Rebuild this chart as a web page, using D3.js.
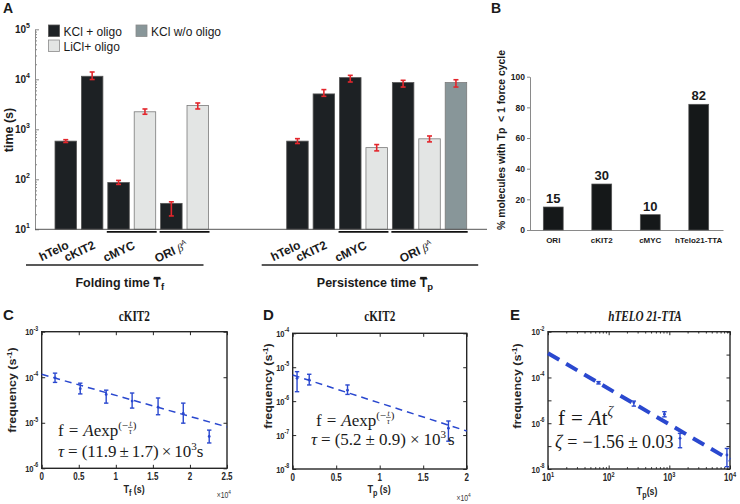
<!DOCTYPE html>
<html><head><meta charset="utf-8">
<script src="https://cdn.jsdelivr.net/npm/d3@7/dist/d3.min.js"></script>
<style>html,body{margin:0;padding:0;background:#fff}svg{display:block}</style>
</head><body>
<svg id="fig" width="740" height="504" xmlns="http://www.w3.org/2000/svg"></svg>
<script>
// ================= DATA =================
// Panel A
const legendLabels = ["KCl + oligo", "LiCl+ oligo", "KCl w/o oligo"];
const legendConds  = ["KCl", "LiCl", "KClNo"];
const foldKeys   = ["hTelo","cKIT2","cMYC-KCl","cMYC-LiCl","ORI-KCl","ORI-LiCl"];
const foldCond   = ["KCl","KCl","KCl","LiCl","KCl","LiCl"];
const foldValues = [580, 11500, 86, 2240, 33, 2980];
const foldLow    = [545, 9900, 79, 2000, 18.5, 2550];
const foldHigh   = [620, 14000, 95, 2550, 35.5, 3360];
const persKeys   = ["hTelo","cKIT2","cMYC-KCl","cMYC-LiCl","ORI-KCl","ORI-LiCl","ORI-noOligo"];
const persCond   = ["KCl","KCl","KCl","LiCl","KCl","LiCl","KClNo"];
const persValues = [580, 5100, 10800, 430, 8600, 645, 8600];
const persLow    = [520, 4570, 8830, 370, 7000, 560, 7000];
const persHigh   = [650, 6220, 12000, 495, 9550, 735, 9800];
const groupNames = ["hTelo","cKIT2","cMYC","ORI"];
const foldGroups = [["hTelo"],["cKIT2"],["cMYC-KCl","cMYC-LiCl"],["ORI-KCl","ORI-LiCl"]];
const persGroups = [["hTelo"],["cKIT2"],["cMYC-KCl","cMYC-LiCl"],["ORI-KCl","ORI-LiCl","ORI-noOligo"]];
const yTicksA = [1e1, 1e2, 1e3, 1e4, 1e5];
// Panel B
const bCats   = ["ORI","cKIT2","cMYC","hTelo21-TTA"];
const bValues = [15, 30, 10, 82];
const bTicks  = [0, 20, 40, 60, 80, 100];
// Panel C  (cKIT2, folding time)
const cT    = [1800, 5200, 8700, 12200, 15700, 19100, 22600];
const cF    = [9.7e-5, 5.6e-5, 4.2e-5, 3.0e-5, 2.2e-5, 1.6e-5, 5.0e-6];
const cLow  = [7.7e-5, 4.3e-5, 2.7e-5, 2.1e-5, 1.5e-5, 9.8e-6, 3.6e-6];
const cHigh = [1.23e-4, 7.4e-5, 5.2e-5, 4.5e-5, 3.5e-5, 2.7e-5, 6.9e-6];
const cFitT = [0, 25000];
const cFitF = [1.16e-4, 8.1e-6];
const cXTicks = [0, 5000, 10000, 15000, 20000, 25000];
const cXLabels = ["0","0.5","1","1.5","2","2.5"];
const cYTicks = [1e-6, 1e-5, 1e-4, 1e-3];
// Panel D  (cKIT2, persistence time)
const dT    = [500, 1900, 6300, 17900];
const dF    = [4.7e-6, 4.2e-6, 2.1e-6, 1.6e-7];
const dLow  = [1.9e-6, 3.0e-6, 1.58e-6, 6.6e-8];
const dHigh = [7.4e-6, 6.2e-6, 3.0e-6, 2.6e-7];
const dFitT = [0, 20000];
const dFitF = [5.9e-6, 1.32e-7];
const dXTicks = [0, 5000, 10000, 15000, 20000];
const dXLabels = ["0","0.5","1","1.5","2"];
const dYTicks = [1e-8, 1e-7, 1e-6, 1e-5, 1e-4];
// Panel E  (hTELO 21-TTA)
const eT    = [68, 260, 830, 1500, 8900];
const eF    = [5.9e-5, 8.0e-6, 2.5e-6, 2.2e-7, 4.1e-8];
const eLow  = [5.2e-5, 5.6e-6, 1.9e-6, 8.5e-8, 1.26e-8];
const eHigh = [6.6e-5, 9.3e-6, 3.2e-6, 3.6e-7, 7.9e-8];
const eFitT = [10, 10000];
const eFitF = [1.15e-3, 2.5e-8];
const eXTicks = [1e1, 1e2, 1e3, 1e4];
const eYTicks = [1e-8, 1e-7, 1e-6, 1e-5, 1e-4, 1e-3, 1e-2];
const eYLabeled = [1e-8, 1e-6, 1e-4, 1e-2];

// ================= STYLE =================
const SANS = '"Liberation Sans", Arial, Helvetica, sans-serif';
const SERIF = '"Liberation Serif", "Times New Roman", serif';
const INK = "#1a1a1a";
const condColors = {KCl:"#1d2124", LiCl:"#e3e5e4", KClNo:"#889699"};
const RED = "#e3262c", BLUE = "#2a48cf";
const SX = 0.8;   // horizontal squeeze of the text in panels C–E

const svg = d3.select("#fig");
svg.append("rect").attr("width",740).attr("height",504).attr("fill","#fff");

function panelLetter(t, x, y, size){
  svg.append("text").attr("x",x).attr("y",y).text(t)
    .attr("font-family",SANS).attr("font-weight","bold").attr("font-size",size).attr("fill",INK);
}

// ================= PANEL A =================
const gA = svg.append("g");
const yA = d3.scaleLog().domain([10, 1e5]).range([229.3, 29.3]);
const xFold = d3.scaleBand().domain(foldKeys).range([55, 208.5]).paddingInner(0.186).paddingOuter(0);
const xPers = d3.scaleBand().domain(persKeys).range([286.7, 466.7]).paddingInner(0.186).paddingOuter(0);

const minorA = [];
[10,100,1000,10000].forEach(d => { for (let m=2;m<=9;m++) minorA.push(d*m); });
gA.append("g").attr("transform","translate(35,0)")
  .call(d3.axisLeft(yA).tickValues(minorA).tickSizeInner(-2).tickSizeOuter(0).tickFormat(""))
  .call(s => { s.select(".domain").remove(); s.selectAll("line").attr("stroke","#8a8a8a"); });
gA.append("g").attr("transform","translate(35,0)")
  .call(d3.axisLeft(yA).tickValues(yTicksA).tickSizeInner(-4).tickSizeOuter(0).tickFormat(""))
  .call(s => { s.select(".domain").attr("stroke","#8a8a8a"); s.selectAll("line").attr("stroke","#8a8a8a"); });
yTicksA.forEach(v => {
  const t = gA.append("text").attr("x",30).attr("y",yA(v)+4).attr("text-anchor","end")
    .attr("font-family",SANS).attr("font-weight","bold").attr("fill",INK);
  t.append("tspan").text("10").attr("font-size",10);
  t.append("tspan").text(Math.round(Math.log10(v))).attr("font-size",7).attr("dy",-5);
});
gA.append("text").attr("transform","translate(13,130) rotate(-90)").attr("text-anchor","middle")
  .attr("font-family",SANS).attr("font-weight","bold").attr("font-size",12.5).attr("fill",INK).text("time (s)");

function drawBars(xs, keys, conds, vals, lo, hi){
  const bw = xs.bandwidth();
  keys.forEach((k,i) => {
    gA.append("rect").attr("x",xs(k)).attr("y",yA(vals[i])).attr("width",bw)
      .attr("height",yA(10)-yA(vals[i])).attr("fill",condColors[conds[i]])
      .attr("stroke", conds[i]==="KCl" ? "#555" : "#7a7a7a").attr("stroke-width",0.8);
  });
  keys.forEach((k,i) => {
    const cx = xs(k)+bw/2;
    const g = gA.append("g").attr("stroke",RED).attr("stroke-width",1.6);
    g.append("line").attr("x1",cx).attr("x2",cx).attr("y1",yA(lo[i])).attr("y2",yA(hi[i]));
    g.append("line").attr("x1",cx-2.5).attr("x2",cx+2.5).attr("y1",yA(lo[i])).attr("y2",yA(lo[i]));
    g.append("line").attr("x1",cx-2.5).attr("x2",cx+2.5).attr("y1",yA(hi[i])).attr("y2",yA(hi[i]));
  });
}
drawBars(xFold, foldKeys, foldCond, foldValues, foldLow, foldHigh);
drawBars(xPers, persKeys, persCond, persValues, persLow, persHigh);
gA.append("line").attr("x1",35).attr("x2",487).attr("y1",yA(10)).attr("y2",yA(10)).attr("stroke","#555").attr("stroke-width",1);

function groupLabel(name, x, y){
  const t = gA.append("text").attr("transform",`translate(${x},${y}) rotate(-25)`).attr("text-anchor","end")
    .attr("font-family",SANS).attr("font-weight","bold").attr("font-size",12).attr("fill",INK);
  if (name === "ORI") {
    t.append("tspan").text("ORI ");
    t.append("tspan").text("β").attr("font-family",SERIF).attr("font-style","italic").attr("font-weight","normal").attr("font-size",11);
    t.append("tspan").text("A").attr("font-size",7).attr("font-weight","normal").attr("dy",-5);
  } else t.text(name);
}
function drawGroups(xs, groups){
  const bw = xs.bandwidth();
  groups.forEach((grp,i) => {
    const x0 = xs(grp[0]), x1 = xs(grp[grp.length-1]) + bw;
    const c = (x0+x1)/2;
    if (grp.length > 1)
      gA.append("line").attr("x1",x0-1).attr("x2",x1+1).attr("y1",231.8).attr("y2",231.8)
        .attr("stroke","#111").attr("stroke-width",1.8);
    groupLabel(groupNames[i], c+4, 248);
  });
}
drawGroups(xFold, foldGroups);
drawGroups(xPers, persGroups);

function groupTitle(word, sub, x0, x1, y){
  gA.append("line").attr("x1",x0).attr("x2",x1).attr("y1",y-22).attr("y2",y-22).attr("stroke","#222").attr("stroke-width",1.3);
  const t = gA.append("text").attr("x",(x0+x1)/2+5).attr("y",y).attr("text-anchor","middle")
    .attr("font-family",SANS).attr("font-weight","bold").attr("font-size",12.5).attr("fill",INK);
  t.append("tspan").text(word + " T");
  t.append("tspan").text(sub).attr("font-size",9.5).attr("dy",3);
  const idx = word.length + 1;
  const ext = t.node().getExtentOfChar(idx);
  gA.append("line").attr("x1",ext.x+0.5).attr("x2",ext.x+ext.width-0.5)
    .attr("y1",ext.y+1.5).attr("y2",ext.y+1.5).attr("stroke",INK).attr("stroke-width",1.3);
}
groupTitle("Folding time", "f", xFold.range()[0]-29, xFold.range()[1]-5, 287);
groupTitle("Persistence time", "p", xPers.range()[0]-25, xPers.range()[1]+11.5, 287);

const legPos = [[48.5,25],[48.5,40],[136,25]];
legendLabels.forEach((lab,i) => {
  const [lx,ly] = legPos[i];
  gA.append("rect").attr("x",lx).attr("y",ly).attr("width",11).attr("height",11.5)
    .attr("fill",condColors[legendConds[i]]).attr("stroke", i===0 ? "#555" : "#8a8a8a").attr("stroke-width",0.8);
  gA.append("text").attr("x",lx+15).attr("y",ly+10.5).text(lab)
    .attr("font-family",SANS).attr("font-size",12).attr("fill",INK);
});
panelLetter("A", 3, 13, 14);

// ================= PANEL B =================
const gB = svg.append("g");
const yB = d3.scaleLinear().domain([0,100]).range([230, 76.7]);
const xB = d3.scaleBand().domain(bCats).range([529, 723]).paddingInner(0.59).paddingOuter(0.295);
gB.append("g").attr("transform","translate(530,0)")
  .call(d3.axisLeft(yB).tickValues(bTicks).tickSizeInner(3).tickSizeOuter(0).tickPadding(2))
  .call(s => {
    s.select(".domain").attr("stroke","#8a8a8a");
    s.selectAll("line").attr("stroke","#8a8a8a");
    s.selectAll("text").attr("font-family",SANS).attr("font-weight","bold").attr("font-size",8.5).attr("fill",INK);
  });
gB.append("g").attr("transform","translate(0,230)")
  .call(d3.axisBottom(xB).tickSize(0).tickFormat(""))
  .call(s => s.select(".domain").attr("stroke","#8a8a8a"));
bCats.forEach((c,i) => {
  const x = xB(c), bw = xB.bandwidth();
  gB.append("rect").attr("x",x).attr("y",yB(bValues[i])).attr("width",bw).attr("height",yB(0)-yB(bValues[i]))
    .attr("fill","#151819").attr("stroke","#555").attr("stroke-width",0.7);
  gB.append("text").attr("x",x+bw/2).attr("y",yB(bValues[i])-4).attr("text-anchor","middle").text(bValues[i])
    .attr("font-family",SANS).attr("font-weight","bold").attr("font-size",13).attr("fill",INK);
  gB.append("text").attr("x",x+bw/2).attr("y",243).attr("text-anchor","middle").text(c)
    .attr("font-family",SANS).attr("font-weight","bold").attr("font-size",8).attr("fill",INK);
});
gB.append("text").attr("transform","translate(505,140) rotate(-90)").attr("text-anchor","middle")
  .attr("font-family",SANS).attr("font-weight","bold").attr("font-size",10.4).attr("fill",INK)
  .attr("xml:space","preserve").text("% molecules with Tp  < 1 force cycle");
panelLetter("B", 491, 13, 14);

// ================= PANELS C, D, E =================
function sq(g, x, y, rot){
  return g.append("text").attr("transform",`translate(${x},${y}) scale(${SX},1)` + (rot ? ` rotate(${rot})` : ""));
}
function mathLine(g, x, y, parts){
  let cx = x;
  parts.forEach(p => {
    cx += (p.gap || 0);
    if (p.frac) {
      const s = p.s, yy = y + (p.dy||0);
      const a = g.append("text").attr("x",cx).attr("y",yy-3.2).text(p.frac[0]).attr("font-family",SERIF).attr("font-style","italic").attr("font-size",s).attr("fill",INK);
      const b = g.append("text").attr("x",cx).attr("y",yy+4.6).text(p.frac[1]).attr("font-family",SERIF).attr("font-style","italic").attr("font-size",s).attr("fill",INK);
      const w = Math.max(a.node().getComputedTextLength(), b.node().getComputedTextLength()) + 2;
      a.attr("x", cx + (w - a.node().getComputedTextLength())/2);
      b.attr("x", cx + (w - b.node().getComputedTextLength())/2);
      g.append("line").attr("x1",cx).attr("x2",cx+w).attr("y1",yy-1.6).attr("y2",yy-1.6).attr("stroke",INK).attr("stroke-width",0.6);
      cx += w;
    } else {
      const t = g.append("text").attr("x",cx).attr("y",y+(p.dy||0)).text(p.t)
        .attr("font-family",SERIF).attr("font-size",p.s).attr("fill",INK)
        .attr("font-style", p.it ? "italic" : "normal");
      cx += t.node().getComputedTextLength();
    }
  });
}

function framePanel(o){
  const g = svg.append("g");
  const [x0,x1] = o.x.range(), [yb,yt] = o.y.range();
  g.append("rect").attr("x",x0).attr("y",yt).attr("width",x1-x0).attr("height",yb-yt).attr("fill","#fff");
  const tk = s => { s.select(".domain").remove(); s.selectAll("line").attr("stroke","#262626").attr("stroke-width",1); };
  const ax = (axis, tx, ty, vals, size) => g.append("g").attr("transform",`translate(${tx},${ty})`)
      .call(axis.tickValues(vals).tickSizeInner(-size).tickSizeOuter(0).tickFormat("")).call(tk);
  ax(d3.axisBottom(o.x), 0, yb, o.xTicks, 3.5);
  ax(d3.axisTop(o.x), 0, yt, o.xTicks, 3.5);
  ax(d3.axisLeft(o.y), x0, 0, o.yTicks, 3.5);
  ax(d3.axisRight(o.y), x1, 0, o.yTicks, 3.5);
  if (o.xMinor) { ax(d3.axisBottom(o.x), 0, yb, o.xMinor, 1.8); ax(d3.axisTop(o.x), 0, yt, o.xMinor, 1.8); }
  g.append("rect").attr("x",x0).attr("y",yt).attr("width",x1-x0).attr("height",yb-yt)
    .attr("fill","none").attr("stroke","#262626").attr("stroke-width",1.4);

  const fontTick = t => t.attr("font-family",SANS).attr("font-weight","bold").attr("fill","#262626");
  (o.yLabeled || o.yTicks).forEach(v => {
    const t = fontTick(sq(g, x0-3.5, o.y(v)+3.5)).attr("text-anchor","end");
    t.append("tspan").text("10").attr("font-size",9.5);
    t.append("tspan").text(Math.round(Math.log10(v))).attr("font-size",6.5).attr("dy",-4.5);
  });
  o.xTicks.forEach((v,i) => {
    const t = fontTick(sq(g, o.x(v), yb+12)).attr("text-anchor","middle");
    if (o.xLabels) t.append("tspan").text(o.xLabels[i]).attr("font-size",10);
    else {
      t.append("tspan").text("10").attr("font-size",10);
      t.append("tspan").text(Math.round(Math.log10(v))).attr("font-size",7).attr("dy",-4.5);
    }
  });
  if (o.xLabels) {
    const t = sq(g, x1+4, o.multY).attr("text-anchor","end").attr("font-family",SANS).attr("fill","#333");
    t.append("tspan").text("×10").attr("font-size",8.5);
    t.append("tspan").text("4").attr("font-size",6).attr("dy",-4);
  }
  const xl = fontTick(sq(g, o.xlabX, o.xlabY)).attr("text-anchor","middle");
  xl.append("tspan").text("T").attr("font-size",11.5);
  xl.append("tspan").text(o.sub).attr("font-size",9).attr("dy",3);
  xl.append("tspan").text(o.xunit).attr("font-size",11).attr("dy",-3);
  const yl = fontTick(sq(g, o.ylabX, o.ylabY, -90)).attr("text-anchor","middle");
  yl.append("tspan").text("frequency (s").attr("font-size",12.5);
  yl.append("tspan").text("-1").attr("font-size",8).attr("dy",-4.5);
  yl.append("tspan").text(")").attr("font-size",12.5).attr("dy",4.5);
  const tt = sq(g, (x0+x1)/2 + (o.titleDx||0), 321).attr("text-anchor","middle").text(o.title)
    .attr("font-family",SERIF).attr("font-weight","bold").attr("font-size",14).attr("fill",INK);
  if (o.titleItalic) tt.attr("font-style","italic");

  o.t.forEach((t,i) => {
    const cx = o.x(t);
    const e = g.append("g").attr("stroke",BLUE).attr("stroke-width",1.4);
    e.append("line").attr("x1",cx).attr("x2",cx).attr("y1",o.y(o.lo[i])).attr("y2",o.y(o.hi[i]));
    e.append("line").attr("x1",cx-2.2).attr("x2",cx+2.2).attr("y1",o.y(o.lo[i])).attr("y2",o.y(o.lo[i]));
    e.append("line").attr("x1",cx-2.2).attr("x2",cx+2.2).attr("y1",o.y(o.hi[i])).attr("y2",o.y(o.hi[i]));
    g.append("circle").attr("cx",cx).attr("cy",o.y(o.f[i])).attr("r",1.4).attr("fill",BLUE);
  });
  g.append("path").datum(d3.zip(o.fitT, o.fitF))
    .attr("d", d3.line().x(d => o.x(d[0])).y(d => o.y(d[1])))
    .attr("fill","none").attr("stroke",BLUE).attr("stroke-width",o.fitW).attr("stroke-dasharray",o.dash);
  return g;
}

// Panel C
const gC = framePanel({
  x: d3.scaleLinear().domain([0,25000]).range([41.7, 227]),
  y: d3.scaleLog().domain([1e-6,1e-3]).range([468.3, 331.7]),
  xTicks: cXTicks, xLabels: cXLabels, yTicks: cYTicks, multY: 498,
  t: cT, f: cF, lo: cLow, hi: cHigh, fitT: cFitT, fitF: cFitF, fitW: 1.5, dash: "7,5",
  sub: "f", xunit: " (s)", xlabX: 134, xlabY: 493, ylabX: 16, ylabY: 390, title: "cKIT2"
});
mathLine(gC, 58, 436, [
  {t:"f", s:17}, {t:"=", s:17, gap:5}, {t:"A", s:17, it:true, gap:5}, {t:"exp", s:17},
  {t:"(−", s:11, dy:-7}, {frac:["t","τ"], s:7.5, dy:-7}, {t:")", s:11, dy:-7}
]);
mathLine(gC, 58, 457, [
  {t:"τ", s:17, it:true}, {t:"=", s:17, gap:4}, {t:"(11.9", s:17, gap:4}, {t:"±", s:17, gap:3},
  {t:"1.7)", s:17, gap:3}, {t:"×", s:17, gap:3}, {t:"10", s:17, gap:3}, {t:"3", s:11, dy:-7}, {t:"s", s:17, dy:0}
]);
panelLetter("C", 3, 320, 15);

// Panel D
const gD = framePanel({
  x: d3.scaleLinear().domain([0,20000]).range([292.7, 466.7]),
  y: d3.scaleLog().domain([1e-8,1e-4]).range([469, 333.3]),
  xTicks: dXTicks, xLabels: dXLabels, yTicks: dYTicks, multY: 501,
  t: dT, f: dF, lo: dLow, hi: dHigh, fitT: dFitT, fitF: dFitF, fitW: 1.5, dash: "7,5",
  sub: "p", xunit: " (s)", xlabX: 379, xlabY: 493, ylabX: 272, ylabY: 386, title: "cKIT2"
});
mathLine(gD, 316, 426, [
  {t:"f", s:17}, {t:"=", s:17, gap:5}, {t:"A", s:17, it:true, gap:5}, {t:"exp", s:17},
  {t:"(−", s:11, dy:-7}, {frac:["t","τ"], s:7.5, dy:-7}, {t:")", s:11, dy:-7}
]);
mathLine(gD, 311, 445, [
  {t:"τ", s:17, it:true}, {t:"=", s:17, gap:4}, {t:"(5.2", s:17, gap:4}, {t:"±", s:17, gap:4},
  {t:"0.9)", s:17, gap:4}, {t:"×", s:17, gap:4}, {t:"10", s:17, gap:4}, {t:"3", s:11, dy:-7}, {t:"s", s:17, gap:2}
]);
panelLetter("D", 263, 320, 15);

// Panel E
const eMinor = [];
[10,100,1000].forEach(d => { for (let m=2;m<=9;m++) eMinor.push(d*m); });
const gE = framePanel({
  x: d3.scaleLog().domain([10,1e4]).range([548, 730]),
  y: d3.scaleLog().domain([1e-8,1e-2]).range([469, 331.7]),
  xTicks: eXTicks, xMinor: eMinor, yTicks: eYTicks, yLabeled: eYLabeled,
  t: eT, f: eF, lo: eLow, hi: eHigh, fitT: eFitT, fitF: eFitF, fitW: 4, dash: "13,8",
  sub: "p", xunit: "(s)", xlabX: 647, xlabY: 495, ylabX: 521, ylabY: 386,
  title: "hTELO 21-TTA", titleItalic: true, titleDx: 6
});
mathLine(gE, 558, 425, [
  {t:"f", s:21}, {t:"=", s:21, gap:6}, {t:"A", s:21, it:true, gap:6}, {t:"t", s:21}, {t:"ζ", s:14, it:true, dy:-9}
]);
mathLine(gE, 555, 448, [
  {t:"ζ", s:18, it:true}, {t:"=", s:18, gap:5}, {t:"−1.56", s:18, gap:5}, {t:"±", s:18, gap:4}, {t:"0.03", s:18, gap:4}
]);
panelLetter("E", 510, 320, 15);
</script>
</body></html>
